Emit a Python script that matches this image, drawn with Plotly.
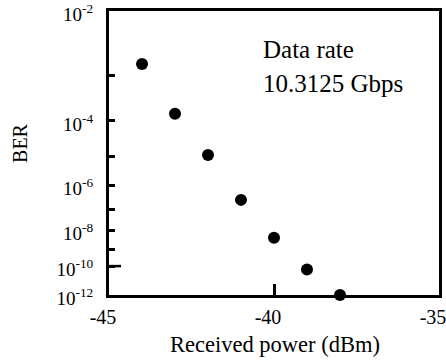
import numpy as np
import plotly.graph_objects as go

# Data
power_dbm = [-44, -43, -42, -41, -40, -39, -38]
ber = [1.6e-3, 1.5e-4, 1.1e-5, 2.6e-7, 4.3e-9, 6e-11, 1.0e-12]

x_ticks = [-45, -40, -35]
y_label_exps = [-2, -4, -6, -8, -10, -12]
y_minor_exps = [-3, -5, -7, -9]


def tr(b):
    b = np.asarray(b, dtype=float)
    return -np.log10(-np.log10(b))


y_major_vals = tr([10.0 ** e for e in y_label_exps]).tolist()
y_major_text = [f"10<sup>{e}</sup>" for e in y_label_exps]
y_minor_vals = tr([10.0 ** e for e in y_minor_exps]).tolist()

font_family = "Liberation Serif"
eps = 1e-6

fig = go.Figure()
fig.add_trace(go.Scatter(
    x=power_dbm, y=tr(ber).tolist(), mode="markers",
    marker=dict(color="black", size=12),
    cliponaxis=False, showlegend=False, hoverinfo="skip",
))

# longer tick at 10^-10
y10 = float(tr(1e-10))
fig.add_shape(type="line", xref="x", yref="y", x0=-45, x1=-45 + 12 / 33.0,
              y0=y10, y1=y10, line=dict(color="black", width=2.5))

fig.update_layout(
    width=446, height=363,
    margin=dict(l=109, r=7, t=11, b=68),
    paper_bgcolor="white", plot_bgcolor="white",
    font=dict(family=font_family, color="black", size=19),
    xaxis=dict(
        range=[-45 - 0.001, -35 + 0.001], tickvals=x_ticks,
        ticktext=[str(v) for v in x_ticks],
        ticks="inside", ticklen=11, tickwidth=2.5, tickcolor="black",
        showline=True, linewidth=3, linecolor="black", mirror=True,
        showgrid=False, zeroline=False, ticklabelstandoff=2,
        ticklabelshift=-6,
        ticklabeloverflow="allow",
        tickfont=dict(size=20, family=font_family), automargin=False,
    ),
    yaxis=dict(
        range=[float(tr(1e-12)) - eps, float(tr(1e-2)) + eps],
        tickvals=y_major_vals, ticktext=y_major_text,
        ticks="inside", ticklen=6, tickwidth=2.5, tickcolor="black",
        minor=dict(tickvals=y_minor_vals, ticks="inside", ticklen=6,
                   tickwidth=2.5, tickcolor="black", showgrid=False),
        showline=True, linewidth=3, linecolor="black", mirror=True,
        showgrid=False, zeroline=False, ticklabelstandoff=9,
        ticklabelshift=3,
        ticklabeloverflow="allow",
        tickfont=dict(size=19, family=font_family), automargin=False,
    ),
    annotations=[
        dict(text="Received power (dBm)", xref="paper", yref="paper",
             x=0.503, y=-0.175, yanchor="middle", xanchor="center",
             showarrow=False, font=dict(size=22.5, family=font_family)),
        dict(text="BER", xref="paper", yref="paper", textangle=-90,
             x=-0.27, y=0.535, xanchor="center", yanchor="middle",
             showarrow=False, font=dict(size=20, family=font_family)),
        dict(text="Data rate", xref="paper", yref="paper",
             x=0.462, y=0.863, xanchor="left", yanchor="middle",
             showarrow=False, font=dict(size=25, family=font_family)),
        dict(text="10.3125 Gbps", xref="paper", yref="paper",
             x=0.462, y=0.746, xanchor="left", yanchor="middle",
             showarrow=False, font=dict(size=25, family=font_family)),
    ],
)

fig.write_html("out.html", config={"displayModeBar": False},
               post_script="document.body.style.margin='0';document.body.style.padding='0';")
